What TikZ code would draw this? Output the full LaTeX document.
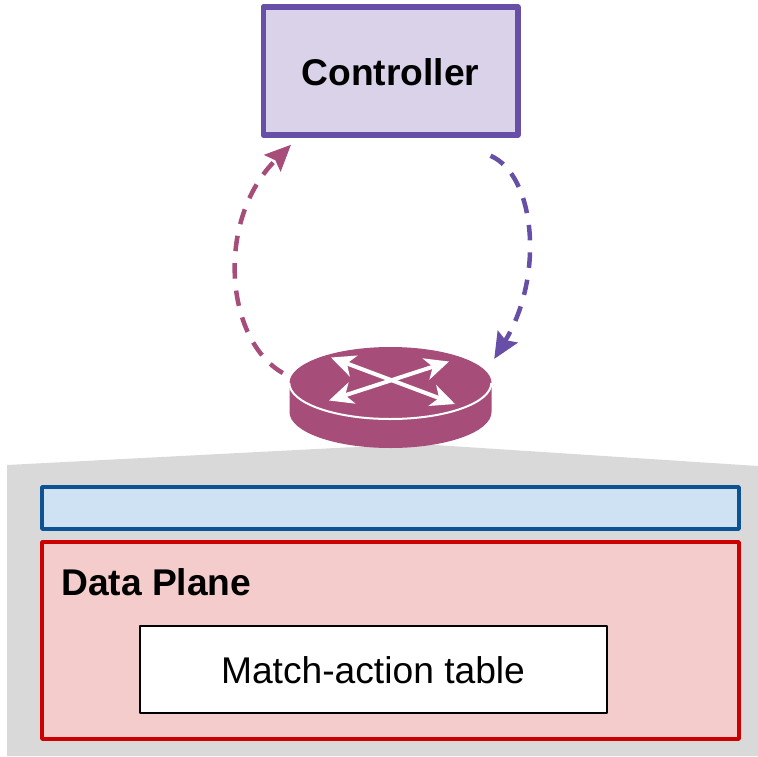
\documentclass[tikz,border=0pt]{standalone}
\usepackage{fontspec}
\setmainfont{Liberation Sans}
\usetikzlibrary{arrows.meta,shapes.geometric}

\definecolor{ctrlpurple}{HTML}{674EA7}
\definecolor{ctrlfill}{HTML}{D9D2E9}
\definecolor{routerred}{HTML}{A64D79}
\definecolor{switchgray}{HTML}{D9D9D9}
\definecolor{barblue}{HTML}{0B5394}
\definecolor{barfill}{HTML}{CFE2F3}
\definecolor{planered}{HTML}{CC0000}
\definecolor{planefill}{HTML}{F4CCCC}

\tikzset{
    bigtext/.style={font=\fontsize{37.2}{44}\selectfont},
    box/.style={draw,rectangle,inner sep=0pt,line join=round},
    loopline/.style={line width=4.5pt,dash pattern=on 15.5pt off 12pt,-{Stealth[length=26pt,width=23pt,inset=4pt]}},
    routerarrow/.style={white,line width=4pt,{Stealth[length=24pt,width=22pt,inset=7pt]}-{Stealth[length=24pt,width=22pt,inset=7pt]}}
}

\begin{document}
\begin{tikzpicture}[x=1pt,y=-1pt]
    \useasboundingbox (0,0) rectangle (758,756);

    % switch outline
    \fill[switchgray] (7,756) -- (7,465) -- (345,447.5) -- (435,445) -- (758,466) -- (758,756) -- cycle;

    \node[box,draw=ctrlpurple,fill=ctrlfill,line width=5.5pt,minimum width=254.5pt,minimum height=128pt] (controller) at (390.5,71) {};
    \node[bigtext,anchor=base] (controllertext) at (390.5,85) {\textbf{Controller}};

    % router
    \fill[routerred] (289.5,383) -- (289.5,412) arc[start angle=180,end angle=0,x radius=101,y radius=36] -- (491.5,383) -- cycle;
    \node[ellipse,fill=routerred,inner sep=0pt,minimum width=202pt,minimum height=72pt] (router) at (390.5,383) {};
    \draw[white,line width=2pt] (router.west) arc[start angle=180,end angle=0,x radius=101,y radius=36];
    \draw[routerarrow] (331,357.5) -- (455,404);
    \draw[routerarrow] (449,361.5) -- (329,400.5);

    \draw[loopline,routerred] ([xshift=-6.5pt,yshift=10pt]router.west) .. controls (225,340) and (215,220) .. ([xshift=30.5pt,yshift=-7pt]controller.south west);
    \draw[loopline,ctrlpurple] ([xshift=-30pt,yshift=-18pt]controller.south east) .. controls (535,175) and (545,275) .. ([xshift=2.5pt,yshift=24pt]router.east);

    % planes
    \node[box,draw=barblue,fill=barfill,line width=3.5pt,minimum width=697pt,minimum height=42pt] (controlbar) at (390.5,508) {};
    \node[box,draw=planered,fill=planefill,line width=3.5pt,minimum width=697pt,minimum height=197pt] (dataplane) at (390.5,640.5) {};
    \node[bigtext,anchor=base west,inner sep=0pt] (dataplanetext) at (61,595.5) {\textbf{Data Plane}};
    \node[box,draw=black,fill=white,line width=2pt,minimum width=467.5pt,minimum height=87pt] (matchtable) at (373.25,669.5) {};
    \node[bigtext,anchor=base] (matchtext) at (373,683) {Match-action table};
\end{tikzpicture}
\end{document}
